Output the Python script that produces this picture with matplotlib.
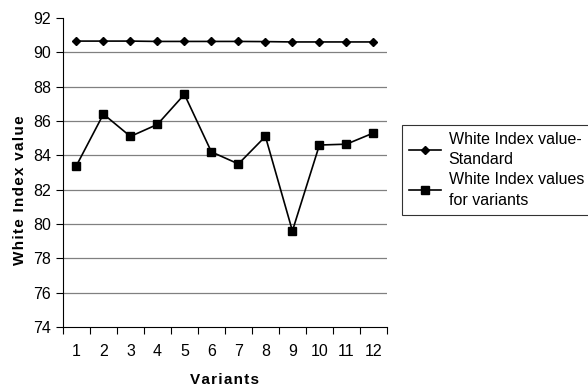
import matplotlib
matplotlib.use('Agg')
import matplotlib.pyplot as plt
import numpy as np

plt.rcParams['font.family'] = ['Liberation Sans', 'DejaVu Sans']

variants = [1, 2, 3, 4, 5, 6, 7, 8, 9, 10, 11, 12]
standard = [90.65, 90.65, 90.65, 90.63, 90.63, 90.63, 90.63, 90.62, 90.6, 90.6, 90.6, 90.6]
variant_vals = [83.4, 86.4, 85.1, 85.8, 87.55, 84.2, 83.5, 85.1, 79.6, 84.6, 84.65, 85.3]
yticks = [74, 76, 78, 80, 82, 84, 86, 88, 90, 92]

fig = plt.figure(figsize=(5.88, 3.89), dpi=100)
ax = fig.add_axes([0.107, 0.159, 0.551, 0.795])

ax.plot(variants, standard, color='black', lw=1.2, marker='D', ms=4.5,
        label='White Index value-\nStandard')
ax.plot(variants, variant_vals, color='black', lw=1.2, marker='s', ms=6,
        label='White Index values\nfor variants')

ax.set_xlim(0.5, 12.5)
ax.set_ylim(74, 92)
ax.set_yticks(yticks)
for y in yticks[1:-1]:
    ax.axhline(y, color='#808080', lw=0.9, zorder=0)

# ticks sit between categories, labels under the points
ax.set_xticks(np.arange(0.5, 13, 1))
ax.set_xticklabels([])
ax.set_xticks(variants, minor=True)
ax.set_xticklabels([str(v) for v in variants], minor=True)
ax.tick_params(axis='x', which='minor', length=0, pad=12, labelsize=11.5)
ax.tick_params(axis='x', which='major', length=5, direction='out')
ax.tick_params(axis='y', length=5, direction='out', labelsize=11.5)

ax.spines['top'].set_visible(False)
ax.spines['right'].set_visible(False)

hs = '\u200a'
ax.set_xlabel(hs.join('Variants'), fontsize=11, fontweight='bold', labelpad=10)
ax.set_ylabel(hs.join('White Index value'), fontsize=11, fontweight='bold')
ax.yaxis.set_label_coords(-0.11, 0.443)

leg = fig.legend(loc='upper left', bbox_to_anchor=(0.684, 0.679), fontsize=11.5,
                 frameon=True, fancybox=False, edgecolor='black', handlelength=1.95,
                 borderpad=0.45, labelspacing=0.3, handletextpad=0.5, borderaxespad=0)
for t in leg.get_texts():
    t.set_linespacing(1.45)
leg.get_frame().set_linewidth(0.8)

fig.savefig('out.png', dpi=100)
